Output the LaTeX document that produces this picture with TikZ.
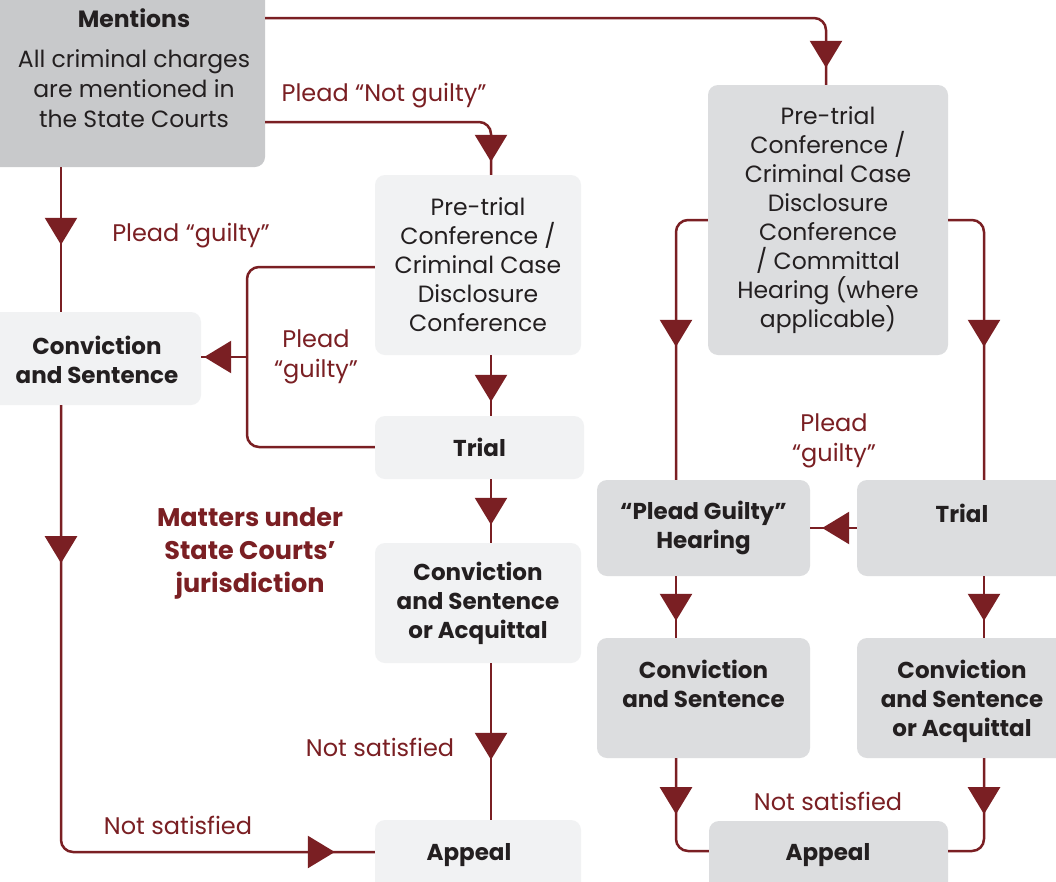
\documentclass[tikz,border=0pt]{standalone}
\usepackage{fontspec}
\setmainfont{Poppins}
\usetikzlibrary{arrows.meta,decorations.markings}
\definecolor{cred}{HTML}{7A1F23}
\definecolor{ctext}{HTML}{231F20}
\definecolor{gdark}{HTML}{C8C9CB}
\definecolor{gmid}{HTML}{DCDDDF}
\definecolor{glight}{HTML}{F1F2F3}
\tikzset{
  box/.style={rectangle, rounded corners=10pt, inner sep=0pt, align=center, text=ctext, font=\fontsize{23.5}{29}\selectfont},
  boxlight/.style={box, fill=glight},
  boxmid/.style={box, fill=gmid},
  boxdark/.style={box, fill=gdark},
  bt/.style={font=\bfseries\fontsize{23}{29}\selectfont},
  txt/.style={inner sep=0pt, align=center, text=ctext, font=\fontsize{23.5}{30}\selectfont},
  btxt/.style={txt, font=\bfseries\fontsize{23}{29}\selectfont},
  lbl/.style={text=cred, align=center, font=\fontsize{24}{30.5}\selectfont, inner sep=0pt},
  conn/.style={draw, color=cred, line width=2.5pt, rounded corners=12pt},
  tipat/.style={postaction={decorate, decoration={markings, mark=at position #1 with {\arrow{Triangle[width=32pt,length=27pt]}}}}},
}
\begin{document}
\begin{tikzpicture}[x=1pt, y=-1pt]
\useasboundingbox (0,0) rectangle (1056,881);
\fill[white] (0,0) rectangle (1056,881);
\clip (0,0) rectangle (1056,881);
% helper coordinates
\coordinate (cA) at (61,0);
\coordinate (cB) at (491,0);
\coordinate (cC) at (676,0);
\coordinate (cD) at (826,0);
\coordinate (cE) at (984,0);
\coordinate (r1) at (0,18);
\coordinate (r2) at (0,122);
\coordinate (r3) at (0,267);
\coordinate (r4) at (0,447);
\coordinate (r7) at (0,852);
\coordinate (r8) at (0,851);
\coordinate (jn) at (247,357);

% boxes
\node[boxdark, minimum width=285pt, minimum height=187pt] (mentions) at (122.5,73.5) {};
\node[txt] (mtext) at (134,68) {\textbf{Mentions}\\[10pt]All criminal charges\\are mentioned in\\the State Courts};

\node[boxlight, minimum width=221pt, minimum height=93pt] (c1) at (90.5,358.5) {};
\node[btxt] (c1text) at (97,359.5) {Conviction\\and Sentence};

\node[boxlight, minimum width=206pt, minimum height=180pt] (p1) at (478,265) {Pre-trial\\Conference /\\Criminal Case\\Disclosure\\Conference};
\node[boxlight, bt, minimum width=209pt, minimum height=63pt] (t1) at (479.5,447.5) {Trial};
\node[boxlight, bt, minimum width=206pt, minimum height=120pt] (ca1) at (478,603) {Conviction\\and Sentence\\or Acquittal};
\node[boxlight, minimum width=206pt, minimum height=80pt] (ap1) at (478,860) {};
\node[btxt] (ap1text) at (469,855) {Appeal};

\node[boxmid, minimum width=240pt, minimum height=270pt] (p2) at (828,220) {Pre-trial\\Conference /\\Criminal Case\\Disclosure\\Conference\\/ Committal\\Hearing (where\\applicable)};
\node[boxmid, bt, minimum width=213pt, minimum height=96pt] (pg) at (703.5,528) {“Plead Guilty”\\Hearing};
\node[boxmid, minimum width=219pt, minimum height=96pt] (t2) at (966.5,528) {};
\node[btxt] (t2text) at (962,513) {Trial};
\node[boxmid, bt, minimum width=213pt, minimum height=120pt] (cs2) at (703.5,698) {Conviction\\and Sentence\\\phantom{Conviction}};
\node[boxmid, minimum width=219pt, minimum height=120pt] (ca2) at (966.5,698) {};
\node[btxt] (ca2text) at (962,701) {Conviction\\and Sentence\\or Acquittal};
\node[boxmid, minimum width=239pt, minimum height=80pt] (ap2) at (828.5,861) {};
\node[btxt] (ap2text) at (828,855) {Appeal};

% labels
\node[lbl] (l1) at (384,96) {Plead “Not guilty”};
\node[lbl] (l2) at (191,236) {Plead “guilty”};
\node[lbl] (l3) at (316,357) {Plead\\“guilty”};
\node[lbl, font=\bfseries\fontsize{25.5}{33}\selectfont] (l4) at (250,553) {Matters under\\State Courts’\\jurisdiction};
\node[lbl] (l5) at (380,747) {Not satisfied};
\node[lbl] (l6) at (178,825) {Not satisfied};
\node[lbl] (l7) at (834,441) {Plead\\“guilty”};
\node[lbl] (l8) at (828,801) {Not satisfied};

% connectors
\draw[conn, tipat=-17pt] (mentions.east |- r1) -| (p2.north -| cD);
\draw[conn, tipat=-13pt] (mentions.east |- r2) -| (p1.north -| cB);
\draw[conn, tipat=-67pt] (mentions.south -| cA) -- (c1.north -| cA);
\draw[conn] (p1.west |- r3) -| (jn) |- (t1.west |- r4);
\draw[conn, tipat=-3pt] (jn) -- (c1.east |- jn);
\draw[conn, tipat=-14pt] (p1.south -| cB) -- (t1.north -| cB);
\draw[conn, tipat=-18pt] (t1.south -| cB) -- (ca1.north -| cB);
\draw[conn, tipat=-60pt] (ca1.south -| cB) -- (ap1.north -| cB);
\draw[conn, tipat=158pt, tipat=-40pt] (c1.south -| cA) |- (ap1.west |- r7);
\draw[conn, tipat=-133pt] (p2.west) -| (pg.north -| cC);
\draw[conn, tipat=-133pt] (p2.east) -| (t2.north -| cE);
\draw[conn, tipat=-12pt] (t2.west) -- (pg.east);
\draw[conn, tipat=-17pt] (pg.south -| cC) -- (cs2.north -| cC);
\draw[conn, tipat=-17pt] (t2.south -| cE) -- (ca2.north -| cE);
\draw[conn, tipat=56pt] (cs2.south -| cC) |- (ap2.west |- r8);
\draw[conn, tipat=56pt] (ca2.south -| cE) |- (ap2.east |- r8);
\end{tikzpicture}
\end{document}
